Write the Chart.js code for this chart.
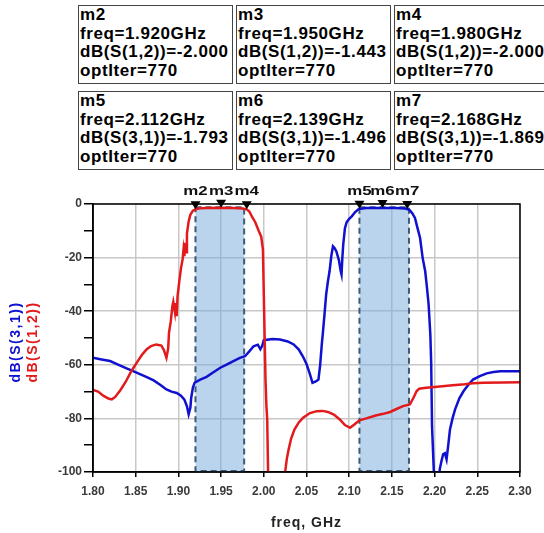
<!DOCTYPE html>
<html>
<head>
<meta charset="utf-8">
<script src="https://cdn.jsdelivr.net/npm/chart.js@4.4.1/dist/chart.umd.min.js"></script>
<style>
body { margin: 0; width: 544px; height: 533px; overflow: hidden; background: #fff; position: relative;
       font-family: "Liberation Sans", Arial, sans-serif; }
#chart { position: absolute; left: 0; top: 0; }
.mk { position: absolute; width: 152px; height: 77px; border: 1.5px solid #444; font-weight: bold;
      font-size: 17px; line-height: 18.5px; padding-left: 1px; white-space: nowrap; overflow: hidden;
      letter-spacing: 0.6px; color: #000; box-sizing: content-box; }
</style>
</head>
<body>
<div id="boxes"></div>
<canvas id="chart" width="544" height="533"></canvas>
<script>
// S(1,2) trace, red
const freqS12 = [1.800, 1.806, 1.812, 1.818, 1.822, 1.826, 1.832, 1.838, 1.845, 1.852, 1.858, 1.863, 1.868, 1.874,
  1.880, 1.883, 1.886, 1.888, 1.889, 1.891, 1.893, 1.894, 1.896, 1.897, 1.898, 1.899, 1.901, 1.903, 1.905, 1.906,
  1.907, 1.908, 1.909, 1.910, 1.912, 1.914, 1.917, 1.920, 1.925, 1.935, 1.950, 1.965, 1.975, 1.980, 1.983, 1.986,
  1.990, 1.994, 1.997, 1.999, 2.000, 2.001, 2.002, 2.003, 2.004, 2.005, 2.006, 2.024, 2.025, 2.027, 2.029, 2.032,
  2.036, 2.041, 2.046, 2.054, 2.062, 2.069, 2.075, 2.082, 2.089, 2.095, 2.101, 2.106, 2.112, 2.120, 2.131, 2.140,
  2.148, 2.156, 2.163, 2.171, 2.175, 2.179, 2.182, 2.190, 2.200, 2.218, 2.235, 2.245, 2.257, 2.280, 2.300];
const dbS12 = [-69.4, -70.0, -71.5, -72.6, -72.9, -72.0, -69.5, -66.5, -62.3, -58.8, -56.0, -54.2, -53.0, -52.4,
  -52.8, -54.5, -57.4, -54.0, -48.0, -44.0, -38.0, -36.5, -40.5, -37.0, -41.9, -34.5, -29.0, -24.0, -20.5, -17.0,
  -19.5, -14.5, -18.0, -11.0, -6.5, -4.0, -2.5, -2.0, -1.6, -1.5, -1.44, -1.5, -1.7, -2.0, -2.8, -4.6,
  -6.8, -10.0, -12.2, -17.0, -33.8, -50.0, -65.5, -75.0, -80.4, -99.6, -110, -110, -100, -95.0, -91.7, -87.5,
  -84.1, -81.5, -79.7, -78.0, -77.3, -77.2, -77.6, -78.6, -80.4, -82.5, -83.5, -82.3, -80.7, -80.0, -78.9, -78.3,
  -77.6, -76.4, -75.4, -74.8, -72.5, -69.8, -68.9, -68.6, -68.3, -67.7, -67.3, -66.9, -66.7, -66.6, -66.5];

// S(3,1) trace, blue
const freqS31 = [1.800, 1.810, 1.820, 1.830, 1.840, 1.847, 1.855, 1.863, 1.871, 1.879, 1.886, 1.892, 1.898, 1.903,
  1.907, 1.910, 1.912, 1.914, 1.915, 1.917, 1.919, 1.925, 1.933, 1.941, 1.949, 1.957, 1.965, 1.972, 1.978, 1.983,
  1.988, 1.993, 1.996, 1.998, 2.000, 2.010, 2.019, 2.028, 2.035, 2.041, 2.046, 2.050, 2.054, 2.057, 2.061, 2.064,
  2.066, 2.068, 2.069, 2.071, 2.073, 2.075, 2.077, 2.079, 2.081, 2.083, 2.085, 2.088, 2.090, 2.091, 2.092, 2.093,
  2.095, 2.097, 2.100, 2.103, 2.107, 2.111, 2.120, 2.139, 2.155, 2.165, 2.168, 2.171, 2.174, 2.177, 2.180, 2.183,
  2.186, 2.189, 2.191, 2.193, 2.195, 2.196, 2.197, 2.199, 2.200, 2.205, 2.206, 2.208, 2.210, 2.212, 2.214, 2.216,
  2.218, 2.221, 2.224, 2.229, 2.234, 2.240, 2.245, 2.253, 2.261, 2.269, 2.277, 2.300];
const dbS31 = [-57.4, -58.0, -58.6, -60.0, -61.4, -62.4, -63.5, -64.6, -65.8, -67.5, -69.2, -70.0, -70.5, -71.5,
  -73.0, -75.5, -78.5, -76.0, -72.3, -68.5, -66.7, -65.6, -64.5, -62.8, -61.1, -59.8, -58.5, -57.4, -56.8, -55.0,
  -53.1, -52.5, -54.2, -53.0, -50.8, -50.4, -50.6, -51.3, -52.4, -54.3, -57.0, -59.7, -63.5, -66.7, -66.2, -65.5,
  -60.0, -52.0, -48.7, -41.5, -33.8, -29.0, -25.1, -19.5, -15.8, -16.5, -17.7, -21.0, -25.0, -26.3, -20.0, -15.2,
  -9.0, -6.8, -5.5, -4.6, -3.0, -1.9, -1.5, -1.5, -1.5, -1.7, -1.87, -2.3, -3.5, -5.2, -9.0, -12.7,
  -20.1, -25.1, -31.0, -37.5, -48.7, -59.2, -82.9, -99.0, -110, -110, -99.0, -96.0, -93.4, -93.0, -95.3, -90.0,
  -84.1, -80.0, -76.6, -72.5, -69.8, -67.3, -65.5, -64.2, -63.2, -62.7, -62.4, -62.4];

// markers
const markerNames = ["m2", "m3", "m4", "m5", "m6", "m7"];
const markerFreqs = [1.920, 1.950, 1.980, 2.112, 2.139, 2.168];
const markerTraces = ["S(1,2)", "S(1,2)", "S(1,2)", "S(3,1)", "S(3,1)", "S(3,1)"];
const markerValues = [-2.000, -1.443, -2.000, -1.793, -1.496, -1.869];
const optIter = 770;

// shaded passbands
const bandStart = [1.920, 2.112];
const bandEnd = [1.977, 2.170];
const bandTop = -1.2;

// build the marker readout boxes
const boxes = document.getElementById("boxes");
markerNames.forEach((name, i) => {
  const d = document.createElement("div");
  d.className = "mk";
  d.style.left = (78 + (i % 3) * 158) + "px";
  d.style.top = (5 + Math.floor(i / 3) * 86) + "px";
  d.innerHTML = name + "<br>freq=" + markerFreqs[i].toFixed(3) + "GHz<br>dB(" + markerTraces[i] + ")=" +
    markerValues[i].toFixed(3) + "<br>optIter=" + optIter;
  boxes.appendChild(d);
});

const overlay = {
  id: "overlay",
  beforeDatasetsDraw(chart) {
    const ctx = chart.ctx;
    const x = chart.scales.x, y = chart.scales.y;
    ctx.save();
    for (let i = 0; i < bandStart.length; i++) {
      const x0 = x.getPixelForValue(bandStart[i]);
      const x1 = x.getPixelForValue(bandEnd[i]);
      const y0 = y.getPixelForValue(bandTop);
      const y1 = y.getPixelForValue(-100);
      ctx.fillStyle = "rgba(120, 170, 220, 0.5)";
      ctx.fillRect(x0, y0, x1 - x0, y1 - y0);
      ctx.strokeStyle = "#3d5a78";
      ctx.lineWidth = 2;
      ctx.setLineDash([6, 4]);
      ctx.strokeRect(x0, y0, x1 - x0, y1 - y0 - 1);
    }
    ctx.restore();
  },
  afterDatasetsDraw(chart) {
    const ctx = chart.ctx;
    const a = chart.chartArea;
    const x = chart.scales.x, y = chart.scales.y;
    ctx.save();
    // frame
    ctx.strokeStyle = "#000";
    ctx.lineWidth = 1.5;
    ctx.strokeRect(a.left, a.top, a.right - a.left, a.bottom - a.top);
    // marker triangles and names
    ctx.fillStyle = "#000";
    for (let i = 0; i < markerNames.length; i++) {
      const px = x.getPixelForValue(markerFreqs[i]);
      const py = y.getPixelForValue(markerValues[i]);
      ctx.beginPath();
      ctx.moveTo(px, py);
      ctx.lineTo(px - 5, py - 8);
      ctx.lineTo(px + 5, py - 8);
      ctx.closePath();
      ctx.fill();
      ctx.save();
      ctx.translate(px, 195);
      ctx.scale(1.3, 1);
      ctx.font = "bold 13px 'Liberation Sans', Arial, sans-serif";
      ctx.textAlign = "center";
      ctx.textBaseline = "alphabetic";
      ctx.fillStyle = "#111";
      ctx.fillText(markerNames[i], 0, 0);
      ctx.restore();
    }
    ctx.restore();
  },
  afterDraw(chart) {
    const ctx = chart.ctx;
    const a = chart.chartArea;
    ctx.save();
    ctx.font = "bold 14px 'Liberation Sans', Arial, sans-serif";
    ctx.letterSpacing = "1px";
    ctx.textAlign = "center";
    ctx.fillStyle = "#222";
    ctx.textBaseline = "alphabetic";
    ctx.fillText("freq, GHz", (a.left + a.right) / 2, 527);
    ctx.letterSpacing = "1.5px";
    ctx.textBaseline = "middle";
    const cy = (a.top + a.bottom) / 2 + 4;
    ctx.save();
    ctx.translate(16, cy);
    ctx.rotate(-Math.PI / 2);
    ctx.fillStyle = "#1010d0";
    ctx.fillText("dB(S(3,1))", 0, 0);
    ctx.restore();
    ctx.save();
    ctx.translate(33, cy);
    ctx.rotate(-Math.PI / 2);
    ctx.fillStyle = "#e31a1c";
    ctx.fillText("dB(S(1,2))", 0, 0);
    ctx.restore();
    ctx.restore();
  }
};

function toPoints(xs, ys) {
  return xs.map((f, i) => ({ x: f, y: ys[i] }));
}

const tickFont = { family: "'Liberation Sans', Arial, sans-serif", size: 12, weight: "bold" };

new Chart(document.getElementById("chart"), {
  type: "line",
  data: {
    datasets: [
      { label: "dB(S(1,2))", data: toPoints(freqS12, dbS12), borderColor: "#e31a1c", borderWidth: 2.5,
        pointRadius: 0, tension: 0, clip: 0 },
      { label: "dB(S(3,1))", data: toPoints(freqS31, dbS31), borderColor: "#1010d0", borderWidth: 2.5,
        pointRadius: 0, tension: 0, clip: 0 }
    ]
  },
  options: {
    responsive: false,
    animation: false,
    layout: { padding: { top: 204, right: 24, left: 0, bottom: 0 } },
    plugins: { legend: { display: false }, tooltip: { enabled: false } },
    scales: {
      x: {
        type: "linear",
        min: 1.8, max: 2.3,
        afterFit: s => { s.height = 61; },
        ticks: { stepSize: 0.05, autoSkip: false, maxRotation: 0, padding: 7, color: "#3a3a3a", font: tickFont,
          callback: v => Number(v).toFixed(2) },
        grid: { color: "#c8c8c8", lineWidth: 1.5, tickColor: "#000", tickLength: 5 },
        border: { color: "#000", width: 1.5 }
      },
      y: {
        min: -100, max: 0,
        afterFit: s => { s.width = 93; },
        ticks: { stepSize: 10, autoSkip: false, padding: 2, color: "#3a3a3a", font: tickFont,
          callback: v => (v % 20 === 0 ? v : "") },
        grid: {
          color: c => (c.tick && c.tick.value % 20 === 0) ? "#c8c8c8" : "rgba(0,0,0,0)",
          lineWidth: 1.5, tickColor: "#000", tickLength: 9
        },
        border: { color: "#000", width: 1.5 }
      }
    }
  },
  plugins: [overlay]
});
</script>
</body>
</html>
